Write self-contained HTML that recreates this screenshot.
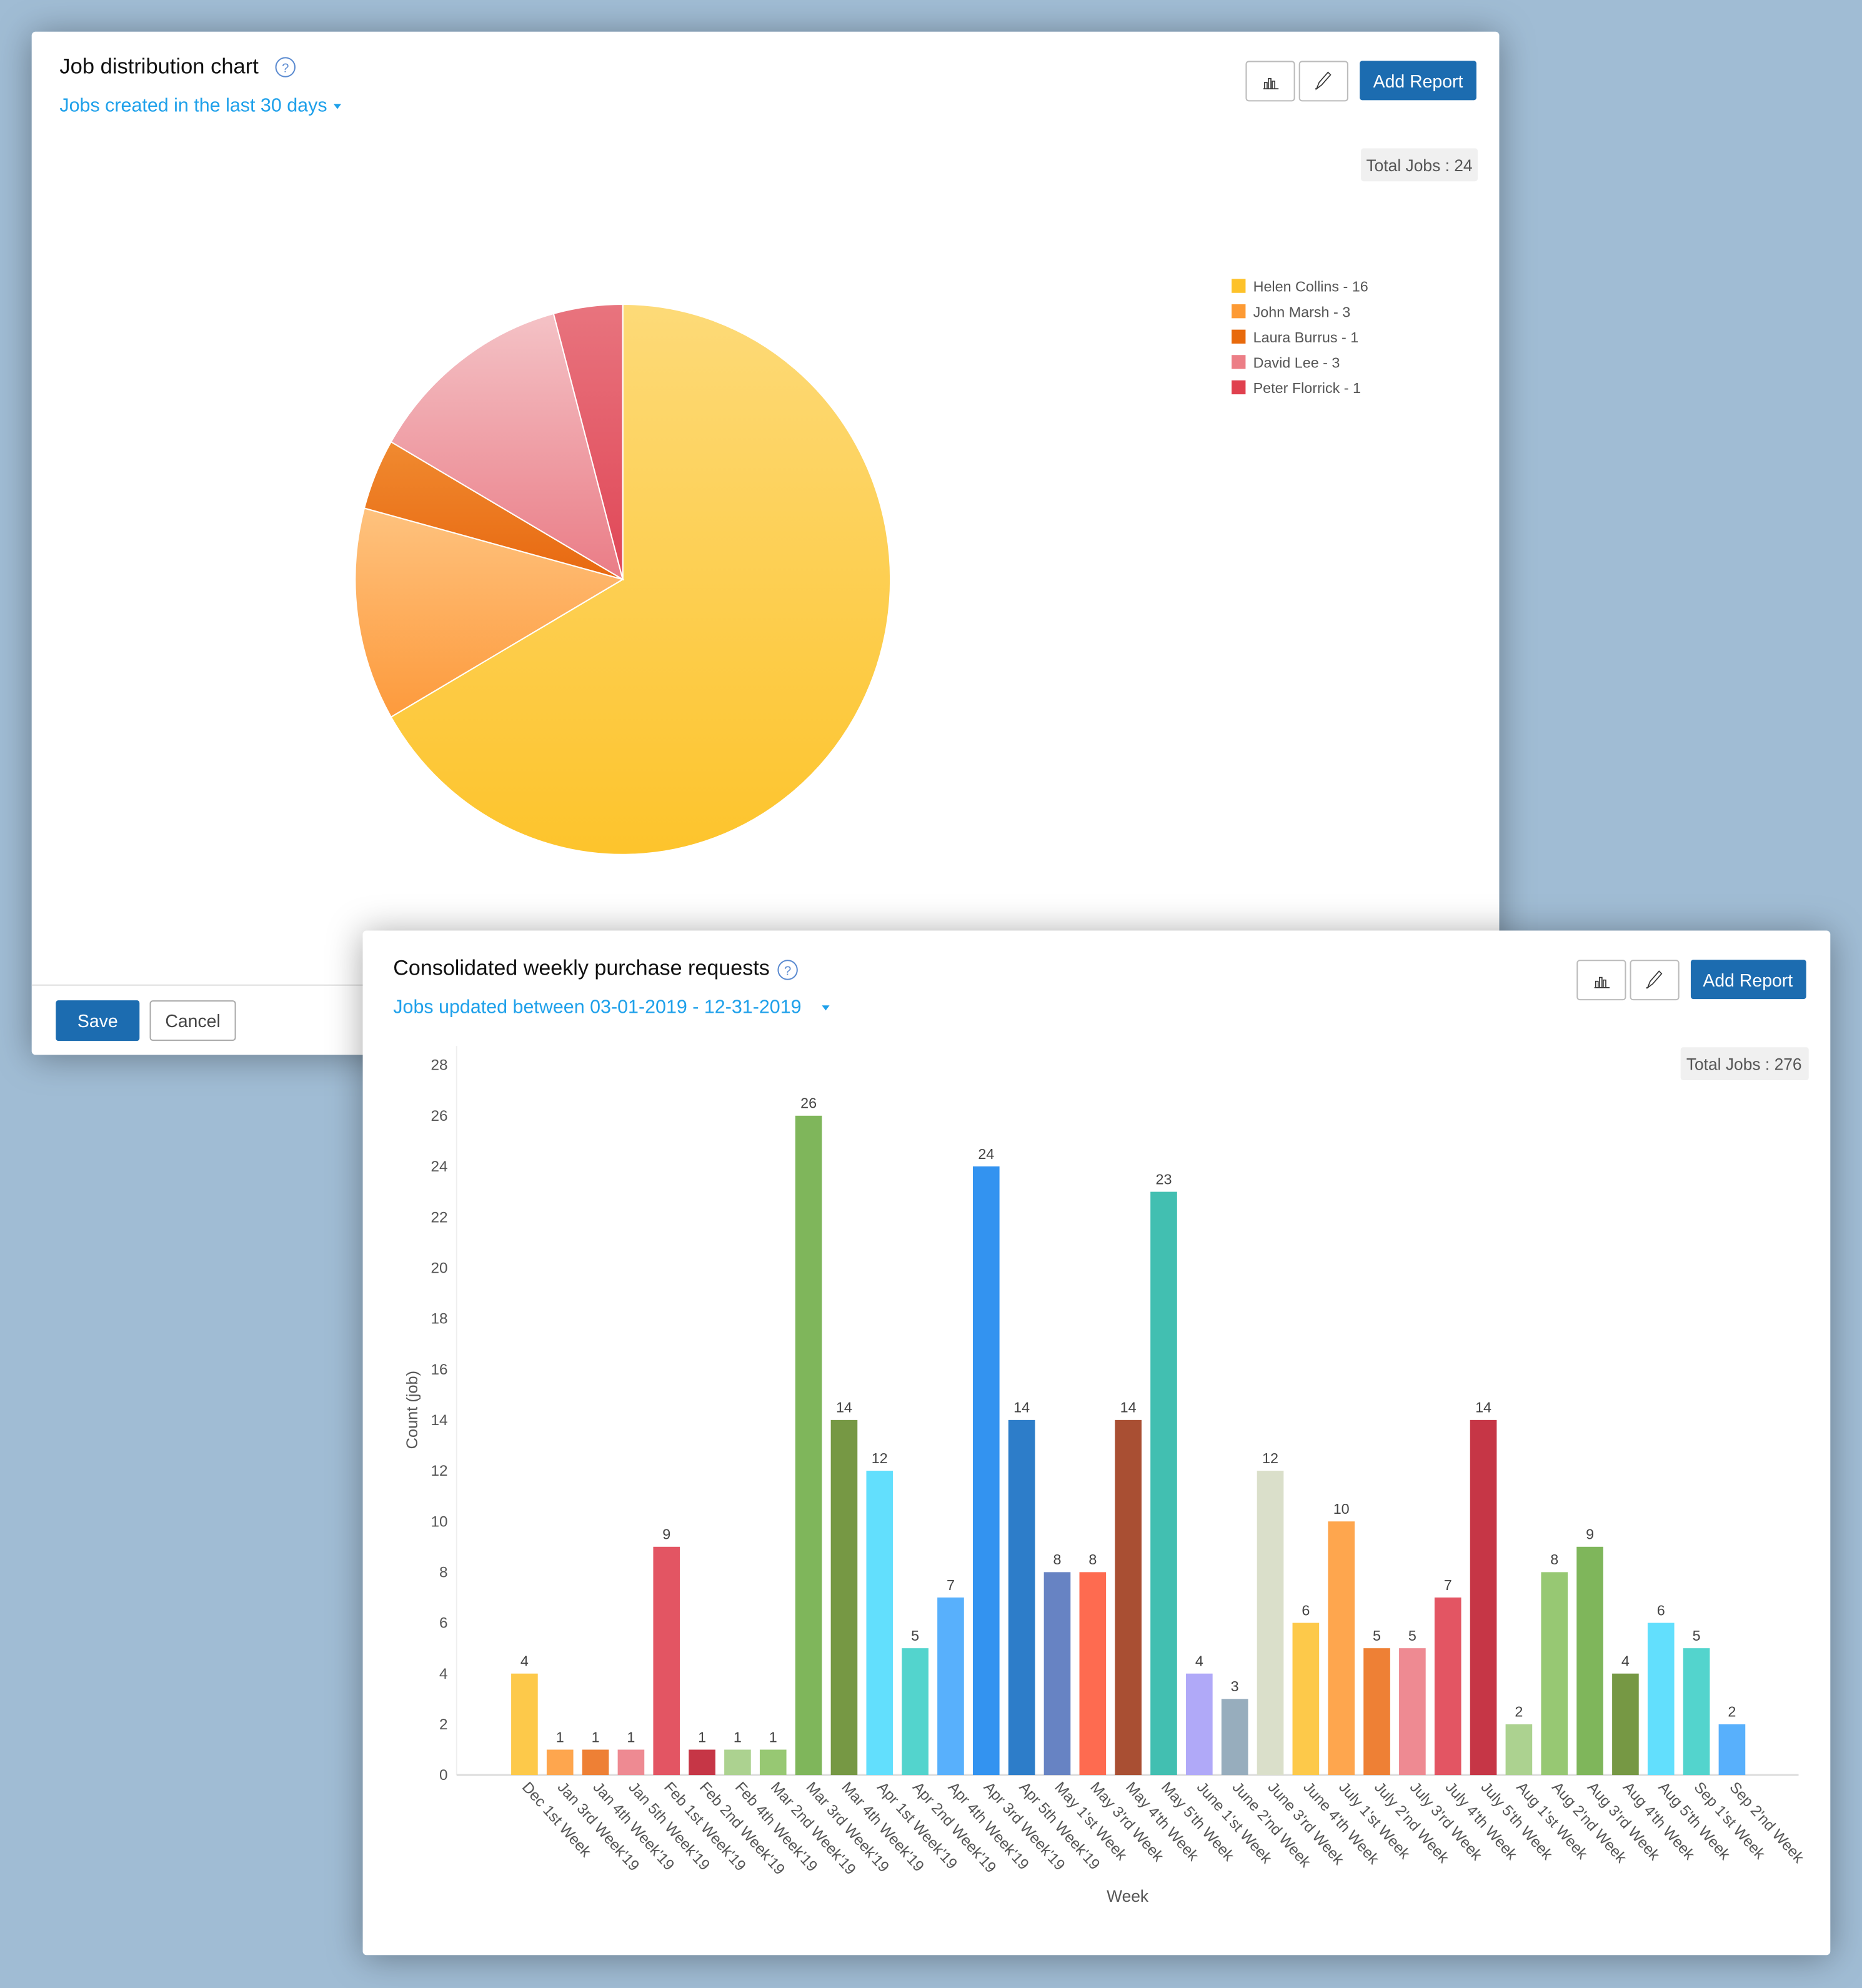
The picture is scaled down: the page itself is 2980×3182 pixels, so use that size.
<!DOCTYPE html>
<html><head><meta charset="utf-8"><style>
html,body{margin:0;padding:0;background:#a0bcd4;}
svg{display:block;}
text{font-family:"Liberation Sans",sans-serif;}
</style></head><body>
<svg width="2980" height="3182" viewBox="0 0 1468 1568" preserveAspectRatio="none" xmlns="http://www.w3.org/2000/svg">
<defs>
<linearGradient id="gH" x1="0" y1="0" x2="0" y2="1"><stop offset="0" stop-color="#fdda78"/><stop offset="1" stop-color="#fdc42c"/></linearGradient>
<linearGradient id="gJ" x1="0" y1="0" x2="0" y2="1"><stop offset="0" stop-color="#fec27e"/><stop offset="1" stop-color="#fd9a3c"/></linearGradient>
<linearGradient id="gL" x1="0" y1="0" x2="0" y2="1"><stop offset="0" stop-color="#f08a30"/><stop offset="1" stop-color="#e86810"/></linearGradient>
<linearGradient id="gD" x1="0" y1="0" x2="0" y2="1"><stop offset="0" stop-color="#f4c2c6"/><stop offset="1" stop-color="#ea7c86"/></linearGradient>
<linearGradient id="gP" x1="0" y1="0" x2="0" y2="1"><stop offset="0" stop-color="#e8747e"/><stop offset="1" stop-color="#e04656"/></linearGradient>
<filter id="sh" x="-10%" y="-10%" width="120%" height="120%"><feDropShadow dx="0" dy="2" stdDeviation="14" flood-color="#000" flood-opacity="0.35"/></filter>
</defs>
<rect width="1468" height="1568" fill="#a0bcd4"/>
<!-- Card 1 -->
<rect x="25" y="25" width="1157" height="807" rx="3" fill="#fff" filter="url(#sh)"/>
<text x="47" y="58" font-size="17" fill="#111">Job distribution chart</text>
<circle cx="225" cy="53" r="7.5" fill="none" stroke="#5a8ad0" stroke-width="1"/><text x="225" y="57" font-size="10" fill="#5a8ad0" text-anchor="middle">?</text>
<text x="47" y="88" font-size="15" fill="#1ea0ea">Jobs created in the last 30 days</text>
<path d="M263,82 l6,0 l-3,4 z" fill="#1ea0ea"/>
<rect x="982.5" y="48.5" width="38" height="31" rx="2" fill="#fff" stroke="#bbb"/>
<rect x="1024.5" y="48.5" width="38" height="31" rx="2" fill="#fff" stroke="#bbb"/>
<g stroke="#333" stroke-width="0.8" fill="none"><path d="M996,70h12M997,70v-5h2v5M1000,70v-8h2v8M1003,70v-6h2v6"/><path d="M1038,70l2-5l7-8l2,2l-7,8z M1038,70h-1"/></g>
<rect x="1072" y="48" width="92" height="31" rx="2" fill="#1c6cb0"/>
<text x="1118" y="69" font-size="14" fill="#fff" text-anchor="middle">Add Report</text>
<rect x="1073" y="117" width="92" height="26" rx="2" fill="#f0f0f0"/>
<text x="1119" y="135" font-size="13" fill="#555" text-anchor="middle">Total Jobs : 24</text>
<g stroke="#fff" stroke-width="1">
<path d="M491,457 L491,240 A211,217 0 1 1 308.3,565.5 Z" fill="url(#gH)"/>
<path d="M491,457 L308.3,565.5 A211,217 0 0 1 287.2,400.8 Z" fill="url(#gJ)"/>
<path d="M491,457 L287.2,400.8 A211,217 0 0 1 308.3,348.5 Z" fill="url(#gL)"/>
<path d="M491,457 L308.3,348.5 A211,217 0 0 1 436.4,247.4 Z" fill="url(#gD)"/>
<path d="M491,457 L436.4,247.4 A211,217 0 0 1 491,240 Z" fill="url(#gP)"/>
</g>
<g font-size="11.5" fill="#555">
<rect x="971" y="220" width="11" height="11" fill="#fdc22a"/><text x="988" y="230">Helen Collins - 16</text>
<rect x="971" y="240" width="11" height="11" fill="#fd9a34"/><text x="988" y="250">John Marsh - 3</text>
<rect x="971" y="260" width="11" height="11" fill="#e86a0c"/><text x="988" y="270">Laura Burrus - 1</text>
<rect x="971" y="280" width="11" height="11" fill="#ec7e86"/><text x="988" y="290">David Lee - 3</text>
<rect x="971" y="300" width="11" height="11" fill="#e0404e"/><text x="988" y="310">Peter Florrick - 1</text>
</g>
<line x1="25" y1="777" x2="1182" y2="777" stroke="#ddd"/>
<rect x="44" y="789" width="66" height="32" rx="2" fill="#1c6cb0"/>
<text x="77" y="810" font-size="14" fill="#fff" text-anchor="middle">Save</text>
<rect x="118.5" y="789.5" width="67" height="31" rx="2" fill="#fff" stroke="#aaa"/>
<text x="152" y="810" font-size="14" fill="#444" text-anchor="middle">Cancel</text>
<!-- Card 2 -->
<rect x="286" y="734" width="1157" height="808" rx="3" fill="#fff" filter="url(#sh)"/>
<text x="310" y="769" font-size="16.8" fill="#111">Consolidated weekly purchase requests</text>
<circle cx="621" cy="765" r="7.5" fill="none" stroke="#5a8ad0" stroke-width="1"/><text x="621" y="769" font-size="10" fill="#5a8ad0" text-anchor="middle">?</text>
<text x="310" y="799" font-size="15" fill="#1ea0ea">Jobs updated between 03-01-2019 - 12-31-2019</text>
<path d="M648,793 l6,0 l-3,4 z" fill="#1ea0ea"/>
<rect x="1243.5" y="757.5" width="38" height="31" rx="2" fill="#fff" stroke="#bbb"/>
<rect x="1285.5" y="757.5" width="38" height="31" rx="2" fill="#fff" stroke="#bbb"/>
<g stroke="#333" stroke-width="0.8" fill="none"><path d="M1257,779h12M1258,779v-5h2v5M1261,779v-8h2v8M1264,779v-6h2v6"/><path d="M1299,779l2-5l7-8l2,2l-7,8z M1299,779h-1"/></g>
<rect x="1333" y="757" width="91" height="31" rx="2" fill="#1c6cb0"/>
<text x="1378" y="778" font-size="14" fill="#fff" text-anchor="middle">Add Report</text>
<rect x="1325" y="826" width="101" height="26" rx="2" fill="#f0f0f0"/>
<text x="1375" y="844" font-size="13" fill="#555" text-anchor="middle">Total Jobs : 276</text>
<line x1="360" y1="825" x2="360" y2="1400" stroke="#eee"/>
<line x1="360" y1="1400" x2="1418" y2="1400" stroke="#ddd" stroke-width="1.5"/>
<g font-size="12" fill="#555" text-anchor="end">
<text x="353" y="1404">0</text><text x="353" y="1364">2</text><text x="353" y="1324">4</text><text x="353" y="1284">6</text><text x="353" y="1244">8</text><text x="353" y="1204">10</text><text x="353" y="1164">12</text><text x="353" y="1124">14</text><text x="353" y="1084">16</text><text x="353" y="1044">18</text><text x="353" y="1004">20</text><text x="353" y="964">22</text><text x="353" y="924">24</text><text x="353" y="884">26</text><text x="353" y="844">28</text>
</g>
<text transform="translate(329,1112) rotate(-90)" font-size="12.5" fill="#555" text-anchor="middle">Count (job)</text>
<text x="889" y="1500" font-size="13" fill="#555" text-anchor="middle">Week</text>
<g>
<rect x="403" y="1320" width="21" height="80" fill="#fdc94a"/>
<rect x="431" y="1380" width="21" height="20" fill="#fea64e"/>
<rect x="459" y="1380" width="21" height="20" fill="#ee8035"/>
<rect x="487" y="1380" width="21" height="20" fill="#ee8a92"/>
<rect x="515" y="1220" width="21" height="180" fill="#e35563"/>
<rect x="543" y="1380" width="21" height="20" fill="#c63646"/>
<rect x="571" y="1380" width="21" height="20" fill="#acd290"/>
<rect x="599" y="1380" width="21" height="20" fill="#97c873"/>
<rect x="627" y="880" width="21" height="520" fill="#7fb65b"/>
<rect x="655" y="1120" width="21" height="280" fill="#769844"/>
<rect x="683" y="1160" width="21" height="240" fill="#62dffd"/>
<rect x="711" y="1300" width="21" height="100" fill="#53d4cd"/>
<rect x="739" y="1260" width="21" height="140" fill="#58b0fc"/>
<rect x="767" y="920" width="21" height="480" fill="#3393f0"/>
<rect x="795" y="1120" width="21" height="280" fill="#2d7dc9"/>
<rect x="823" y="1240" width="21" height="160" fill="#6783c3"/>
<rect x="851" y="1240" width="21" height="160" fill="#fe6b50"/>
<rect x="879" y="1120" width="21" height="280" fill="#a94f33"/>
<rect x="907" y="940" width="21" height="460" fill="#42bfb1"/>
<rect x="935" y="1320" width="21" height="80" fill="#b0a9f8"/>
<rect x="963" y="1340" width="21" height="60" fill="#97adbd"/>
<rect x="991" y="1160" width="21" height="240" fill="#dadfca"/>
<rect x="1019" y="1280" width="21" height="120" fill="#fdc94a"/>
<rect x="1047" y="1200" width="21" height="200" fill="#fea64e"/>
<rect x="1075" y="1300" width="21" height="100" fill="#ee8035"/>
<rect x="1103" y="1300" width="21" height="100" fill="#ee8a92"/>
<rect x="1131" y="1260" width="21" height="140" fill="#e35563"/>
<rect x="1159" y="1120" width="21" height="280" fill="#c63646"/>
<rect x="1187" y="1360" width="21" height="40" fill="#acd290"/>
<rect x="1215" y="1240" width="21" height="160" fill="#97c873"/>
<rect x="1243" y="1220" width="21" height="180" fill="#7fb65b"/>
<rect x="1271" y="1320" width="21" height="80" fill="#769844"/>
<rect x="1299" y="1280" width="21" height="120" fill="#62dffd"/>
<rect x="1327" y="1300" width="21" height="100" fill="#53d4cd"/>
<rect x="1355" y="1360" width="21" height="40" fill="#58b0fc"/>
</g>
<g font-size="11.5" fill="#444" text-anchor="middle">
<text x="413.5" y="1314">4</text><text x="441.5" y="1374">1</text><text x="469.5" y="1374">1</text><text x="497.5" y="1374">1</text><text x="525.5" y="1214">9</text><text x="553.5" y="1374">1</text><text x="581.5" y="1374">1</text><text x="609.5" y="1374">1</text><text x="637.5" y="874">26</text><text x="665.5" y="1114">14</text><text x="693.5" y="1154">12</text><text x="721.5" y="1294">5</text><text x="749.5" y="1254">7</text><text x="777.5" y="914">24</text><text x="805.5" y="1114">14</text><text x="833.5" y="1234">8</text><text x="861.5" y="1234">8</text><text x="889.5" y="1114">14</text><text x="917.5" y="934">23</text><text x="945.5" y="1314">4</text><text x="973.5" y="1334">3</text><text x="1001.5" y="1154">12</text><text x="1029.5" y="1274">6</text><text x="1057.5" y="1194">10</text><text x="1085.5" y="1294">5</text><text x="1113.5" y="1294">5</text><text x="1141.5" y="1254">7</text><text x="1169.5" y="1114">14</text><text x="1197.5" y="1354">2</text><text x="1225.5" y="1234">8</text><text x="1253.5" y="1214">9</text><text x="1281.5" y="1314">4</text><text x="1309.5" y="1274">6</text><text x="1337.5" y="1294">5</text><text x="1365.5" y="1354">2</text>
</g>
<g font-size="12" fill="#555">
<text transform="translate(411,1410) rotate(48)">Dec 1st Week</text>
<text transform="translate(439,1410) rotate(48)">Jan 3rd Week'19</text>
<text transform="translate(467,1410) rotate(48)">Jan 4th Week'19</text>
<text transform="translate(495,1410) rotate(48)">Jan 5th Week'19</text>
<text transform="translate(523,1410) rotate(48)">Feb 1st Week'19</text>
<text transform="translate(551,1410) rotate(48)">Feb 2nd Week'19</text>
<text transform="translate(579,1410) rotate(48)">Feb 4th Week'19</text>
<text transform="translate(607,1410) rotate(48)">Mar 2nd Week'19</text>
<text transform="translate(635,1410) rotate(48)">Mar 3rd Week'19</text>
<text transform="translate(663,1410) rotate(48)">Mar 4th Week'19</text>
<text transform="translate(691,1410) rotate(48)">Apr 1st Week'19</text>
<text transform="translate(719,1410) rotate(48)">Apr 2nd Week'19</text>
<text transform="translate(747,1410) rotate(48)">Apr 4th Week'19</text>
<text transform="translate(775,1410) rotate(48)">Apr 3rd Week'19</text>
<text transform="translate(803,1410) rotate(48)">Apr 5th Week'19</text>
<text transform="translate(831,1410) rotate(48)">May 1'st Week</text>
<text transform="translate(859,1410) rotate(48)">May 3'rd Week</text>
<text transform="translate(887,1410) rotate(48)">May 4'th Week</text>
<text transform="translate(915,1410) rotate(48)">May 5'th Week</text>
<text transform="translate(943,1410) rotate(48)">June 1'st Week</text>
<text transform="translate(971,1410) rotate(48)">June 2'nd Week</text>
<text transform="translate(999,1410) rotate(48)">June 3'rd Week</text>
<text transform="translate(1027,1410) rotate(48)">June 4'th Week</text>
<text transform="translate(1055,1410) rotate(48)">July 1'st Week</text>
<text transform="translate(1083,1410) rotate(48)">July 2'nd Week</text>
<text transform="translate(1111,1410) rotate(48)">July 3'rd Week</text>
<text transform="translate(1139,1410) rotate(48)">July 4'th Week</text>
<text transform="translate(1167,1410) rotate(48)">July 5'th Week</text>
<text transform="translate(1195,1410) rotate(48)">Aug 1'st Week</text>
<text transform="translate(1223,1410) rotate(48)">Aug 2'nd Week</text>
<text transform="translate(1251,1410) rotate(48)">Aug 3'rd Week</text>
<text transform="translate(1279,1410) rotate(48)">Aug 4'th Week</text>
<text transform="translate(1307,1410) rotate(48)">Aug 5'th Week</text>
<text transform="translate(1335,1410) rotate(48)">Sep 1'st Week</text>
<text transform="translate(1363,1410) rotate(48)">Sep 2'nd Week</text>
</g>
</svg>
</body></html>
